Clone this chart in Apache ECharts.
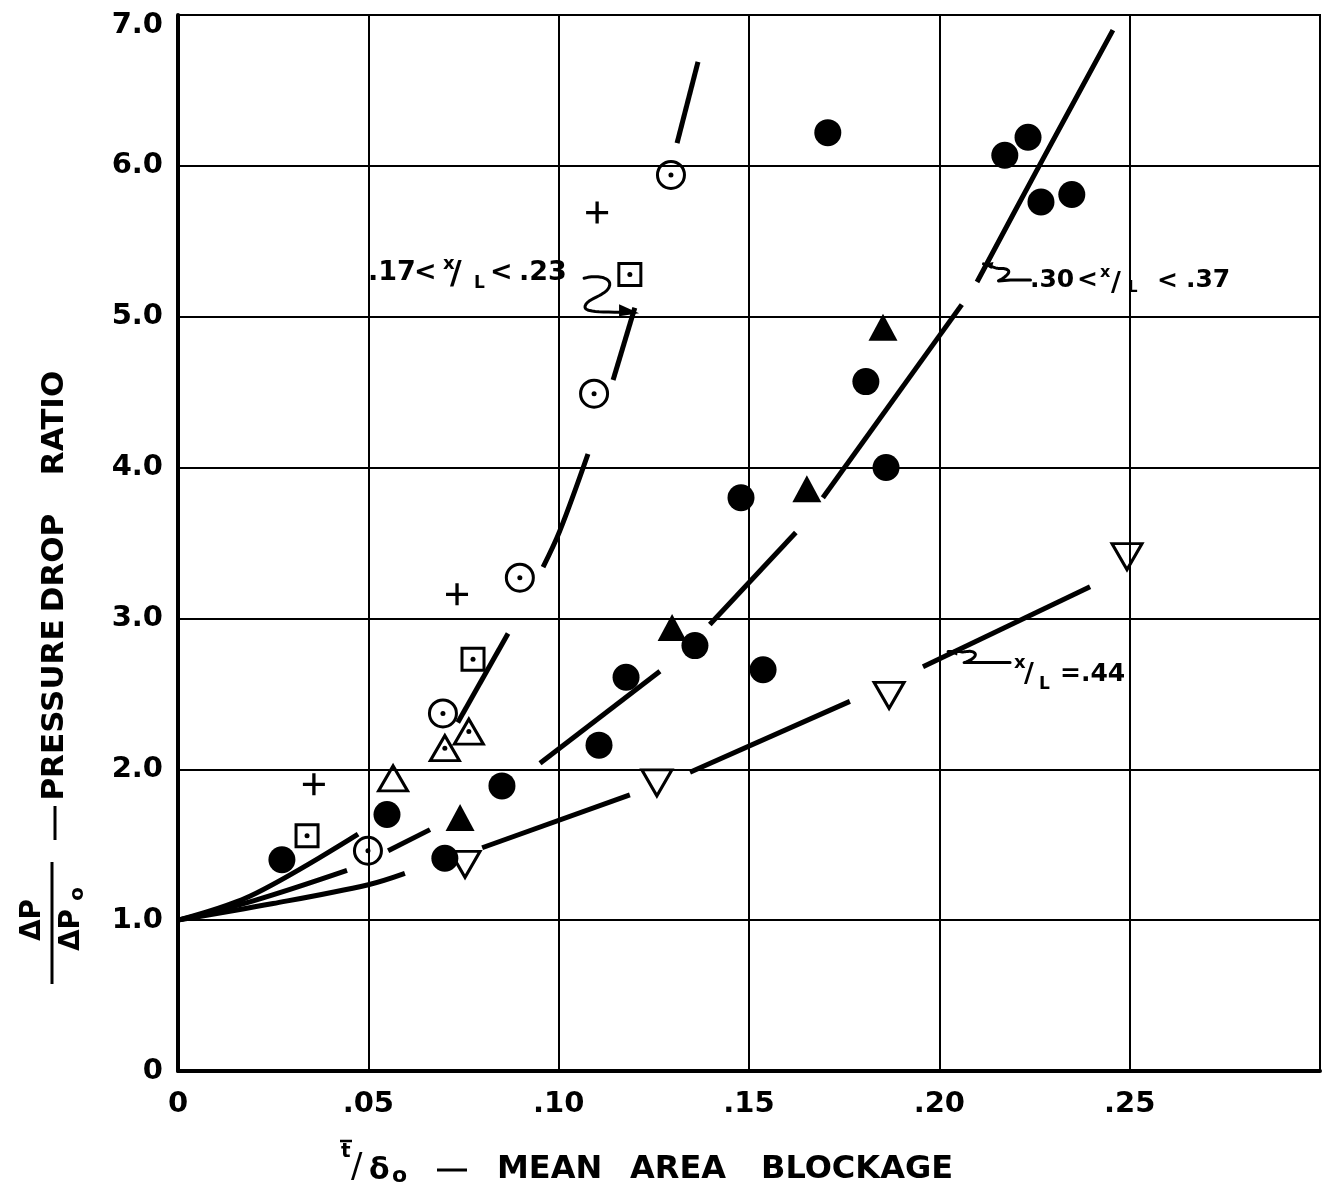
<!DOCTYPE html>
<html>
<head>
<meta charset="utf-8">
<script src="https://cdn.jsdelivr.net/npm/echarts@6/dist/echarts.min.js"></script>
<style>
  html, body { margin: 0; padding: 0; background: #fff; }
  #chart { width: 1329px; height: 1191px; }
</style>
</head>
<body>
<div id="chart"></div>
<script>
// ---- axes ----
const xTickValues = [0, 0.05, 0.10, 0.15, 0.20, 0.25, 0.30];
const xTickLabels = ['0', '.05', '.10', '.15', '.20', '.25', ''];
const yTickValues = [0, 1, 2, 3, 4, 5, 6, 7];
const yTickLabels = ['0', '1.0', '2.0', '3.0', '4.0', '5.0', '6.0', '7.0'];

// ---- measured points: [mean area blockage, pressure drop ratio] ----
const filledCircles = [
  [0.0273, 1.40], [0.0549, 1.70], [0.0701, 1.41], [0.0851, 1.89],
  [0.1106, 2.16], [0.1177, 2.61], [0.1358, 2.82], [0.1479, 3.80],
  [0.1537, 2.66], [0.1707, 6.22], [0.1807, 4.57], [0.1860, 4.00],
  [0.2172, 6.07], [0.2233, 6.19], [0.2267, 5.76], [0.2348, 5.81]
];
const filledTriangles = [[0.0741, 1.68], [0.1298, 2.94], [0.1652, 3.86], [0.1852, 4.93]];
const openTriangles = [[0.0565, 1.94]];
const dottedTriangles = [[0.0701, 2.14], [0.0764, 2.25]];
const downTriangles = [[0.0754, 1.37], [0.1258, 1.91], [0.1868, 2.49], [0.2493, 3.41]];
const dottedCircles = [[0.0499, 1.46], [0.0696, 2.37], [0.0898, 3.27], [0.1093, 4.49], [0.1295, 5.94]];
const dottedSquares = [[0.0339, 1.56], [0.0775, 2.73], [0.1187, 5.28]];
const plusMarks = [[0.0357, 1.90], [0.0733, 3.16], [0.1101, 5.69]];

// ---- faired curves, drawn as broken segments ----
const curveLow = [   // .17 < x/L < .23
  [[0, 1.0], [0.019, 1.16], [0.0473, 1.57]],
  [[0.0735, 2.31], [0.0867, 2.90]],
  [[0.0959, 3.34], [0.1003, 3.58], [0.1077, 4.09]],
  [[0.1143, 4.58], [0.1200, 5.06]],
  [[0.1311, 6.15], [0.1366, 6.69]]
];
const curveMid = [   // .30 < x/L < .37
  [[0, 1.0], [0.02, 1.13], [0.0444, 1.33]],
  [[0.0552, 1.46], [0.0662, 1.60]],
  [[0.0951, 2.04], [0.1266, 2.65]],
  [[0.1397, 2.96], [0.1623, 3.57]],
  [[0.1694, 3.80], [0.2059, 5.08]],
  [[0.2099, 5.23], [0.2256, 5.97], [0.2456, 6.90]]
];
const curveHigh = [  // x/L = .44
  [[0, 1.0], [0.025, 1.11], [0.05, 1.235], [0.0596, 1.31]],
  [[0.0799, 1.48], [0.1187, 1.83]],
  [[0.1345, 1.98], [0.1765, 2.45]],
  [[0.1957, 2.68], [0.2396, 3.21]]
];

// ---- curve labels: text anchor and leader tip in data units ----
const noteLow = { text: [0.0499, 5.29], tip: [0.1206, 5.03] };
const noteMid = { text: [0.2238, 5.24], tip: [0.2116, 5.35] };
const noteHigh = { text: [0.2196, 2.63], tip: [0.2023, 2.78] };

const FONT = '"DejaVu Sans", "Liberation Sans", sans-serif';
const INK = '#000';

const chart = echarts.init(document.getElementById('chart'), null, { renderer: 'canvas' });

function tickIndex(values, v) {
  let best = 0, d = Infinity;
  values.forEach((t, i) => { const e = Math.abs(t - v); if (e < d) { d = e; best = i; } });
  return best;
}

function segmentSeries(curve, name) {
  return curve.map((seg, i) => ({
    name: name + '-' + i,
    type: 'line',
    data: seg,
    smooth: seg.length > 2 ? 0.35 : false,
    symbol: 'none',
    silent: true,
    z: 3,
    lineStyle: { color: INK, width: 5, cap: 'butt', opacity: 1 }
  }));
}

function scatter(name, data, symbol, size, filled, extra) {
  return Object.assign({
    name, type: 'scatter', data, symbol, symbolSize: size, silent: true, z: 5,
    itemStyle: filled
      ? { color: INK, borderWidth: 0, opacity: 1 }
      : { color: 'rgba(255,255,255,0)', borderColor: INK, borderWidth: 3, opacity: 1 }
  }, extra || {});
}

function centreDots(name, data) {
  return { name, type: 'scatter', data, symbol: 'circle', symbolSize: 5, silent: true, z: 6,
           itemStyle: { color: INK, opacity: 1 } };
}

const plusPath = 'path://M8.5,0 h3 v8.5 h8.5 v3 h-8.5 v8.5 h-3 v-8.5 h-8.5 v-3 h8.5 z';

const series = [].concat(
  segmentSeries(curveLow, 'low'),
  segmentSeries(curveMid, 'mid'),
  segmentSeries(curveHigh, 'high'),
  [
    scatter('filled circle', filledCircles, 'circle', 27, true),
    scatter('filled triangle', filledTriangles, 'triangle', [29, 27], true),
    scatter('open triangle', openTriangles, 'triangle', [29, 25], false),
    scatter('dotted triangle', dottedTriangles, 'triangle', [29, 25], false),
    centreDots('dotted triangle centre', dottedTriangles),
    scatter('down triangle', downTriangles, 'triangle', [30, 26], false, { symbolRotate: 180 }),
    scatter('dotted circle', dottedCircles, 'circle', 27, false),
    centreDots('dotted circle centre', dottedCircles),
    scatter('dotted square', dottedSquares, 'rect', 22, false),
    centreDots('dotted square centre', dottedSquares),
    scatter('plus', plusMarks, plusPath, 22, true)
  ]
);

const tickFont = { color: INK, fontSize: 29, fontFamily: FONT, fontWeight: 'bold' };

chart.setOption({
  animation: false,
  backgroundColor: '#fff',
  grid: { left: 178, right: 9, top: 15, bottom: 120, show: true,
          borderColor: INK, borderWidth: 2, backgroundColor: 'transparent' },
  xAxis: {
    type: 'value', min: 0, max: 0.30, interval: 0.05,
    axisLine: { show: true, onZero: false, lineStyle: { color: INK, width: 4 } },
    axisTick: { show: false },
    splitLine: { show: true, lineStyle: { color: INK, width: 2 } },
    axisLabel: Object.assign({ show: true, margin: 19, showMinLabel: true, showMaxLabel: true,
                 hideOverlap: false,
                 formatter: v => xTickLabels[tickIndex(xTickValues, v)] }, tickFont)
  },
  yAxis: {
    type: 'value', min: 0, max: 7, interval: 1,
    axisLine: { show: true, onZero: false, lineStyle: { color: INK, width: 4 } },
    axisTick: { show: false },
    splitLine: { show: true, lineStyle: { color: INK, width: 2 } },
    axisLabel: Object.assign({ show: true, margin: 15, showMinLabel: true, showMaxLabel: true,
                 hideOverlap: false,
                 formatter: v => {
                   const i = tickIndex(yTickValues, v);
                   return i === yTickValues.length - 1 ? '{top|' + yTickLabels[i] + '}' : yTickLabels[i];
                 },
                 rich: { top: Object.assign({ padding: [20, 0, 0, 0] }, tickFont) } }, tickFont)
  },
  series
});

// ---- titles and curve labels ----
function txt(x, y, s, size, weight) {
  return { type: 'text', x, y, silent: true, z: 10,
           style: { text: s, fill: INK, fontSize: size, fontFamily: FONT, fontWeight: weight || 'normal',
                    align: 'left', verticalAlign: 'middle' } };
}
function seg(x1, y1, x2, y2, w) {
  return { type: 'line', silent: true, z: 10,
           shape: { x1, y1, x2, y2 }, style: { stroke: INK, lineWidth: w || 3 } };
}
// sample a chain of straight and cubic pieces into a polyline
function curvePts(start, pieces) {
  const pts = [start.slice()];
  let cur = start.slice();
  pieces.forEach(p => {
    if (p.length === 2) { pts.push(p.slice()); cur = p.slice(); return; }
    const [x1, y1, x2, y2, x3, y3] = p;
    for (let k = 1; k <= 12; k++) {
      const t = k / 12, u = 1 - t;
      pts.push([
        u * u * u * cur[0] + 3 * u * u * t * x1 + 3 * u * t * t * x2 + t * t * t * x3,
        u * u * u * cur[1] + 3 * u * u * t * y1 + 3 * u * t * t * y2 + t * t * t * y3
      ]);
    }
    cur = [x3, y3];
  });
  return pts;
}
function leader(ox, oy, start, pieces, w) {
  return { type: 'polyline', x: ox, y: oy, silent: true, z: 10,
           shape: { points: curvePts(start, pieces) },
           style: { stroke: INK, fill: null, lineWidth: w || 3, lineCap: 'round', lineJoin: 'round' } };
}
function head(ox, oy, pts) {
  return { type: 'polygon', x: ox, y: oy, silent: true, z: 10,
           shape: { points: pts }, style: { fill: INK } };
}
function labelParts(ax, ay, parts, size) {
  return parts.map(p => txt(ax + p[0], ay + p[1], p[2], p[3] || size, 'bold'));
}

function draw() {
  const px = c => chart.convertToPixel({ gridIndex: 0 }, c);
  const g = [];

  // x-axis title
  g.push(txt(341, 1152, 't', 20, 'bold'));
  g.push(seg(340, 1141, 352, 1141, 2.5));
  g.push(txt(351, 1168, '/', 34));
  g.push(txt(369, 1171, 'δ', 30, 'bold'));
  g.push(txt(392, 1176, 'o', 22, 'bold'));
  g.push(seg(437, 1170, 467, 1170, 3));
  g.push(txt(497, 1170, 'MEAN', 32, 'bold'));
  g.push(txt(630, 1170, 'AREA', 32, 'bold'));
  g.push(txt(761, 1170, 'BLOCKAGE', 32, 'bold'));

  // y-axis title (reads bottom to top)
  const R = Math.PI / 2;
  const rb = (x, y, s, size) => ({
    type: 'text', x, y, rotation: R, silent: true, z: 10,
    style: { text: s, fill: INK, fontSize: size, fontFamily: FONT, fontWeight: 'bold',
             align: 'center', verticalAlign: 'middle' }
  });
  g.push(rb(55, 710, 'PRESSURE', 31));
  g.push(rb(55, 563, 'DROP', 31));
  g.push(rb(55, 423, 'RATIO', 31));
  g.push(seg(55, 806, 55, 840, 3));
  g.push(rb(33, 920, 'ΔP', 28));
  g.push(seg(52, 862, 52, 984, 3));
  g.push(rb(72, 930, 'ΔP', 28));
  g.push(rb(78, 894, 'o', 20));

  // .17 < x/L < .23
  let a = px(noteLow.text);
  g.push(...labelParts(a[0], a[1], [
    [0, 0, '.17'], [46, 0, '<'], [75, -9, 'x', 18], [82, 2, '/', 32], [106, 11, 'L', 17],
    [122, 0, '<'], [151, 0, '.23']
  ], 27));
  let t = px(noteLow.tip);
  g.push(leader(t[0], t[1], [-53, -34],
    [[-38, -38, -24, -34, -28, -25], [-32, -16, -50, -14, -52, -6], [-53, -1, -44, 0, -16, 0]], 3));
  g.push(head(t[0], t[1], [[-18, -8], [2, 1], [-18, 4]]));

  // .30 < x/L < .37
  a = px(noteMid.text);
  g.push(...labelParts(a[0], a[1], [
    [0, 0, '.30'], [47, 0, '<'], [70, -8, 'x', 16], [81, 3, '/', 27], [98, 8, 'L', 15],
    [127, 1, '<'], [156, 0, '.37']
  ], 25));
  t = px(noteMid.tip);
  g.push(leader(t[0], t[1], [47, 16],
    [[27, 16], [15, 17], [24, 12, 29, 7, 22, 5], [18, 4, 15, 5, 12, 4], [0, 0]], 3));
  g.push(head(t[0], t[1], [[0, 0], [10, -2], [8, 5]]));

  // x/L = .44
  a = px(noteHigh.text);
  g.push(...labelParts(a[0], a[1], [
    [0, -11, 'x', 18], [10, 1, '/', 27], [25, 10, 'L', 17], [46, 0, '='], [67, 0, '.44']
  ], 25));
  t = px(noteHigh.tip);
  g.push(leader(t[0], t[1], [62, 11],
    [[16, 11], [26, 8, 31, 2, 24, 0], [20, -1, 16, 1, 12, 0], [0, 0]], 3));
  g.push(head(t[0], t[1], [[0, 0], [10, -3], [9, 4]]));

  chart.setOption({ graphic: { elements: g } });
}
draw();
</script>
</body>
</html>
